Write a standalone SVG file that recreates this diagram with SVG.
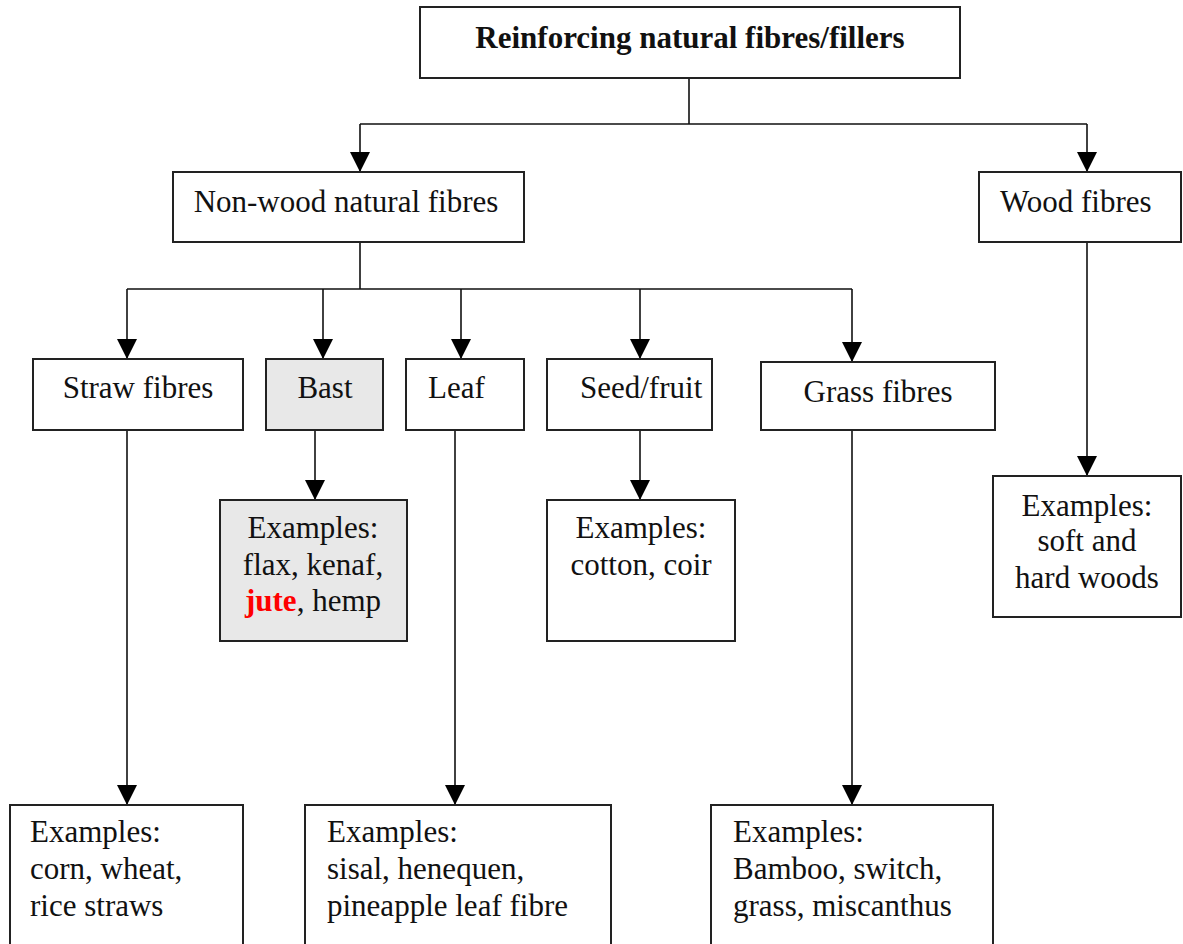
<svg xmlns="http://www.w3.org/2000/svg" width="1183" height="944" viewBox="0 0 1183 944">
<style>
.box{fill:#fff;stroke:#222;stroke-width:2}
.gray{fill:#e8e8e8}
.t{font-family:"Liberation Serif","Times New Roman",serif;font-size:31px;fill:#111}
.c{text-anchor:middle}
.b{font-weight:bold}
.con{fill:none;stroke:#111;stroke-width:1.6}
</style>
<defs>
<marker id="ah" viewBox="0 0 20 20" refX="20" refY="10" markerWidth="20" markerHeight="20" markerUnits="userSpaceOnUse" orient="auto">
<path d="M0,0 L20,10 L0,20 z" fill="#000"/>
</marker>
</defs>
<g id="connectors">
<path class="con" d="M689,78 V124 M360,124 H1087"/>
<path class="con" d="M360,124 V172" marker-end="url(#ah)"/>
<path class="con" d="M1087,124 V172" marker-end="url(#ah)"/>
<path class="con" d="M360,242 V289 M127,289 H852"/>
<path class="con" d="M127,289 V359" marker-end="url(#ah)"/>
<path class="con" d="M323,289 V359" marker-end="url(#ah)"/>
<path class="con" d="M461,289 V359" marker-end="url(#ah)"/>
<path class="con" d="M640,289 V359" marker-end="url(#ah)"/>
<path class="con" d="M852,289 V362" marker-end="url(#ah)"/>
<path class="con" d="M127,430 V805" marker-end="url(#ah)"/>
<path class="con" d="M315,430 V500" marker-end="url(#ah)"/>
<path class="con" d="M455,430 V805" marker-end="url(#ah)"/>
<path class="con" d="M640,430 V500" marker-end="url(#ah)"/>
<path class="con" d="M852,430 V805" marker-end="url(#ah)"/>
<path class="con" d="M1087,242 V476" marker-end="url(#ah)"/>
</g>
<g id="root">
<rect class="box" x="420" y="7" width="540" height="71"/>
<text class="t c b" x="690" y="48">Reinforcing natural fibres/fillers</text>
</g>
<g id="nonwood">
<rect class="box" x="173" y="172" width="351" height="70"/>
<text class="t c" x="346" y="212">Non-wood natural fibres</text>
</g>
<g id="wood">
<rect class="box" x="979" y="172" width="202" height="70"/>
<text class="t" x="1000" y="212">Wood fibres</text>
</g>
<g id="straw">
<rect class="box" x="33" y="359" width="210" height="71"/>
<text class="t c" x="138" y="398">Straw fibres</text>
</g>
<g id="bast">
<rect class="box gray" x="266" y="359" width="117" height="71"/>
<text class="t c" x="325" y="398">Bast</text>
</g>
<g id="leaf">
<rect class="box" x="406" y="359" width="118" height="71"/>
<text class="t" x="428" y="398">Leaf</text>
</g>
<g id="seed">
<rect class="box" x="547" y="359" width="165" height="71"/>
<text class="t" x="580" y="398">Seed/fruit</text>
</g>
<g id="grass">
<rect class="box" x="761" y="362" width="234" height="68"/>
<text class="t c" x="878" y="402">Grass fibres</text>
</g>
<g id="bast-ex">
<rect class="box gray" x="220" y="500" width="187" height="141"/>
<text class="t c" x="313" y="538">Examples:</text>
<text class="t c" x="313" y="575">flax, kenaf,</text>
<text class="t c" x="313" y="611"><tspan fill="#f00" font-weight="bold">jute</tspan>, hemp</text>
</g>
<g id="seed-ex">
<rect class="box" x="547" y="500" width="188" height="141"/>
<text class="t c" x="641" y="538">Examples:</text>
<text class="t c" x="641" y="575">cotton, coir</text>
</g>
<g id="wood-ex">
<rect class="box" x="993" y="476" width="188" height="141"/>
<text class="t c" x="1087" y="516">Examples:</text>
<text class="t c" x="1087" y="551">soft and</text>
<text class="t c" x="1087" y="588">hard woods</text>
</g>
<g id="straw-ex">
<rect class="box" x="10" y="805" width="233" height="145"/>
<text class="t" x="30" y="842">Examples:</text>
<text class="t" x="30" y="879">corn, wheat,</text>
<text class="t" x="30" y="916">rice straws</text>
</g>
<g id="leaf-ex">
<rect class="box" x="305" y="805" width="306" height="145"/>
<text class="t" x="327" y="842">Examples:</text>
<text class="t" x="327" y="879">sisal, henequen,</text>
<text class="t" x="327" y="916">pineapple leaf fibre</text>
</g>
<g id="grass-ex">
<rect class="box" x="711" y="805" width="282" height="145"/>
<text class="t" x="733" y="842">Examples:</text>
<text class="t" x="733" y="879">Bamboo, switch,</text>
<text class="t" x="733" y="916">grass, miscanthus</text>
</g>
</svg>
